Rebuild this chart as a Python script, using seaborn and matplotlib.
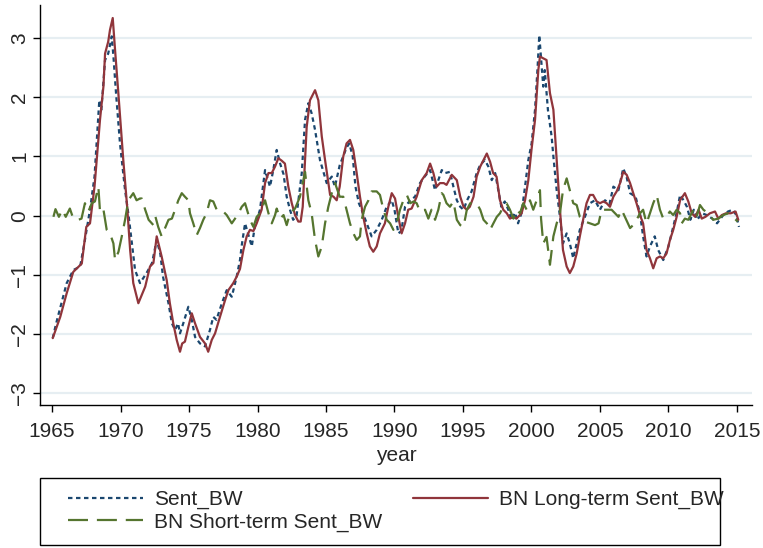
import matplotlib
matplotlib.use('Agg')
import matplotlib.pyplot as plt
import matplotlib.font_manager as fm
from matplotlib.patches import Rectangle
import pandas as pd
import seaborn as sns

# Sent_BW
sent_year = [1965.05, 1965.3, 1966.07, 1966.55, 1967.05, 1967.4, 1967.77, 1968.1, 1968.45, 1968.6,
             1968.87, 1969.1, 1969.36, 1969.5, 1969.67, 1969.96, 1970.33, 1970.6, 1971.06, 1971.42,
             1971.9, 1972.3, 1972.64, 1972.9, 1973.1, 1973.5, 1973.75, 1973.98, 1974.2, 1974.34,
             1974.58, 1974.95, 1975.2, 1975.44, 1975.8, 1976.17, 1976.53, 1976.77, 1977.0, 1977.4,
             1977.75, 1978.12, 1978.48, 1978.72, 1978.85, 1979.09, 1979.3, 1979.58, 1979.8, 1980.18,
             1980.55, 1980.91, 1981.15, 1981.4, 1981.65, 1981.9, 1982.13, 1982.37, 1982.6, 1982.85,
             1983.23, 1983.47, 1983.71, 1983.95, 1984.2, 1984.56, 1985.05, 1985.42, 1985.65, 1986.0,
             1986.5, 1986.7, 1986.95, 1987.15, 1987.4, 1987.6, 1987.97, 1988.33, 1988.7, 1989.07,
             1989.43, 1989.8, 1990.0, 1990.28, 1990.5, 1990.77, 1991.15, 1991.5, 1991.86, 1992.2,
             1992.6, 1992.96, 1993.2, 1993.45, 1993.7, 1994.05, 1994.3, 1994.55, 1994.8, 1995.04,
             1995.3, 1995.63, 1996.0, 1996.26, 1996.6, 1996.85, 1997.1, 1997.35, 1997.58, 1997.8,
             1998.05, 1998.31, 1998.55, 1998.8, 1999.02, 1999.28, 1999.53, 1999.77, 2000.01, 2000.26,
             2000.45, 2000.57, 2000.7, 2000.86, 2000.97, 2001.2, 2001.47, 2001.6, 2001.84, 2002.08,
             2002.3, 2002.57, 2002.8, 2003.05, 2003.3, 2003.53, 2003.9, 2004.27, 2004.64, 2005.0,
             2005.37, 2005.7, 2005.98, 2006.35, 2006.7, 2006.95, 2007.2, 2007.6, 2007.92, 2008.15,
             2008.4, 2008.65, 2009.0, 2009.25, 2009.62, 2010.0, 2010.35, 2010.6, 2010.85, 2011.1,
             2011.35, 2011.6, 2011.85, 2012.1, 2012.45, 2012.8, 2013.2, 2013.55, 2014.0, 2014.35,
             2014.7, 2014.95, 2015.15]
sent_val = [-2.07, -1.82, -1.14, -0.92, -0.86, -0.41, 0.10, 0.66, 1.95, 1.79,
            2.63, 2.74, 3.03, 2.63, 2.07, 1.22, 0.43, -0.02, -0.92, -1.14,
            -0.97, -0.80, -0.41, -0.64, -1.03, -1.48, -1.82, -1.93, -1.82, -1.99,
            -1.82, -1.54, -1.76, -2.05, -2.16, -2.21, -1.93, -1.71, -1.76, -1.48,
            -1.26, -1.37, -1.03, -0.75, -0.50, -0.13, -0.30, -0.52, -0.19, 0.10,
            0.77, 0.49, 0.77, 1.11, 0.88, 0.70, 0.32, 0.10, -0.07, 0.00,
            0.72, 1.62, 1.90, 1.73, 1.45, 0.94, 0.55, 0.66, 0.49, 0.85,
            1.15, 1.22, 1.00, 0.49, 0.21, 0.10, -0.13, -0.35, -0.24, -0.07,
            0.15, 0.26, 0.10, -0.30, -0.26, 0.15, 0.26, 0.32, 0.55, 0.66,
            0.77, 0.43, 0.60, 0.77, 0.72, 0.74, 0.49, 0.26, 0.15, 0.10,
            0.26, 0.41, 0.72, 0.86, 0.94, 0.83, 0.60, 0.72, 0.43, 0.15,
            0.24, 0.10, -0.07, 0.05, -0.13, 0.05, 0.49, 0.94, 1.22, 1.79,
            2.52, 3.05, 2.66, 2.18, 2.46, 1.79, 1.34, 1.00, 0.43, -0.02,
            -0.47, -0.30, -0.47, -0.72, -0.47, -0.24, -0.02, 0.21, 0.26, 0.10,
            0.26, 0.20, 0.49, 0.43, 0.80, 0.65, 0.38, 0.32, 0.04, -0.35,
            -0.69, -0.52, -0.35, -0.58, -0.75, -0.52, -0.19, 0.05, 0.35, 0.26,
            0.15, -0.07, 0.10, -0.07, 0.04, 0.01, -0.05, -0.13, 0.01, 0.07,
            0.10, 0.01, -0.19]

# BN Long-term Sent_BW
long_year = [1965.05, 1965.6, 1966.07, 1966.55, 1967.17, 1967.5, 1967.77, 1968.1, 1968.5, 1968.75,
             1968.87, 1969.1, 1969.23, 1969.43, 1969.6, 1969.84, 1970.2, 1970.5, 1970.7, 1970.93,
             1971.3, 1971.8, 1972.15, 1972.4, 1972.64, 1973.0, 1973.37, 1973.6, 1973.85, 1974.1,
             1974.34, 1974.5, 1974.7, 1974.95, 1975.2, 1975.44, 1975.8, 1976.17, 1976.4, 1976.66,
             1976.9, 1977.26, 1977.63, 1977.87, 1978.23, 1978.48, 1978.72, 1978.97, 1979.21, 1979.45,
             1979.7, 1979.94, 1980.3, 1980.55, 1980.8, 1981.04, 1981.28, 1981.52, 1981.76, 1982.0,
             1982.25, 1982.5, 1982.74, 1982.98, 1983.15, 1983.3, 1983.47, 1983.59, 1983.83, 1984.2,
             1984.44, 1984.69, 1984.93, 1985.3, 1985.55, 1985.78, 1986.0, 1986.26, 1986.5, 1986.75,
             1986.99, 1987.24, 1987.48, 1987.72, 1987.97, 1988.2, 1988.45, 1988.7, 1988.94, 1989.3,
             1989.55, 1989.8, 1990.04, 1990.28, 1990.52, 1990.77, 1991.0, 1991.25, 1991.62, 1991.99,
             1992.35, 1992.6, 1992.84, 1993.08, 1993.32, 1993.6, 1993.8, 1994.18, 1994.55, 1994.8,
             1995.04, 1995.28, 1995.5, 1995.77, 1996.0, 1996.26, 1996.5, 1996.74, 1996.98, 1997.2,
             1997.45, 1997.7, 1997.94, 1998.2, 1998.43, 1998.68, 1998.9, 1999.28, 1999.53, 1999.77,
             2000.0, 2000.26, 2000.5, 2000.62, 2000.85, 2001.1, 2001.35, 2001.6, 2001.84, 2002.08,
             2002.3, 2002.57, 2002.8, 2003.05, 2003.3, 2003.53, 2003.77, 2004.02, 2004.27, 2004.5,
             2004.76, 2005.0, 2005.25, 2005.49, 2005.73, 2005.98, 2006.22, 2006.47, 2006.7, 2006.95,
             2007.2, 2007.43, 2007.67, 2007.92, 2008.15, 2008.4, 2008.65, 2008.89, 2009.14, 2009.38,
             2009.62, 2009.86, 2010.11, 2010.35, 2010.6, 2010.85, 2011.2, 2011.45, 2011.7, 2011.95,
             2012.2, 2012.43, 2012.7, 2013.03, 2013.4, 2013.64, 2013.9, 2014.2, 2014.55, 2014.9,
             2015.1]
long_val = [-2.07, -1.71, -1.31, -0.95, -0.81, -0.19, -0.13, 0.49, 1.62, 2.18,
            2.74, 2.94, 3.14, 3.34, 2.80, 2.07, 0.94, 0.10, -0.58, -1.14,
            -1.48, -1.20, -0.86, -0.80, -0.35, -0.69, -1.09, -1.48, -1.82, -2.10,
            -2.30, -2.16, -2.13, -1.88, -1.65, -1.82, -2.05, -2.16, -2.30, -2.10,
            -1.99, -1.71, -1.43, -1.26, -1.14, -1.03, -0.90, -0.58, -0.35, -0.24,
            -0.26, -0.13, 0.10, 0.55, 0.72, 0.72, 0.83, 0.97, 0.93, 0.88,
            0.49, 0.21, 0.01, -0.10, -0.10, 0.15, 0.94, 1.50, 1.95, 2.12,
            1.95, 1.34, 0.94, 0.35, 0.32, 0.26, 0.49, 1.00, 1.22, 1.28,
            1.11, 0.72, 0.32, -0.02, -0.30, -0.52, -0.61, -0.52, -0.30, -0.13,
            0.15, 0.38, 0.29, -0.02, -0.30, -0.13, 0.10, 0.12, 0.32, 0.60,
            0.72, 0.88, 0.72, 0.49, 0.55, 0.55, 0.52, 0.69, 0.60, 0.32,
            0.15, 0.10, 0.15, 0.32, 0.66, 0.83, 0.94, 1.05, 0.91, 0.72,
            0.66, 0.26, 0.10, 0.04, -0.05, -0.02, -0.05, 0.04, 0.26, 0.60,
            1.11, 1.62, 2.46, 2.69, 2.66, 2.63, 2.07, 1.79, 0.94, 0.10,
            -0.58, -0.86, -0.97, -0.86, -0.64, -0.35, -0.07, 0.21, 0.35, 0.35,
            0.24, 0.21, 0.24, 0.21, 0.15, 0.32, 0.41, 0.55, 0.74, 0.69,
            0.55, 0.38, 0.21, 0.01, -0.13, -0.58, -0.72, -0.89, -0.72, -0.69,
            -0.72, -0.64, -0.41, -0.24, -0.02, 0.26, 0.38, 0.24, 0.04, -0.02,
            0.10, -0.05, -0.02, 0.04, 0.07, -0.05, 0.01, 0.04, 0.04, 0.07,
            -0.07]

# BN Short-term Sent_BW
short_year = [1965.1, 1965.25, 1965.5, 1965.75, 1966.0, 1966.3, 1966.55, 1966.92, 1967.15, 1967.4,
              1967.65, 1967.9, 1968.13, 1968.38, 1968.5, 1968.74, 1968.99, 1969.23, 1969.48, 1969.6,
              1969.85, 1970.09, 1970.33, 1970.57, 1970.93, 1971.17, 1971.42, 1971.55, 1971.8, 1972.05,
              1972.4, 1972.55, 1972.75, 1973.0, 1973.25, 1973.5, 1973.75, 1973.98, 1974.22, 1974.47,
              1974.7, 1974.95, 1975.07, 1975.31, 1975.56, 1975.8, 1976.04, 1976.28, 1976.53, 1976.77,
              1977.02, 1977.26, 1977.5, 1977.75, 1978.12, 1978.36, 1978.61, 1978.85, 1979.09, 1979.45,
              1979.7, 1979.94, 1980.18, 1980.55, 1980.8, 1981.04, 1981.28, 1981.4, 1981.65, 1981.9,
              1982.13, 1982.37, 1982.74, 1983.1, 1983.35, 1983.47, 1983.71, 1983.95, 1984.2, 1984.44,
              1984.69, 1984.93, 1985.17, 1985.42, 1985.66, 1986.0, 1986.26, 1986.5, 1986.75, 1987.0,
              1987.24, 1987.48, 1987.6, 1987.85, 1988.1, 1988.33, 1988.7, 1988.94, 1989.19, 1989.43,
              1989.68, 1989.92, 1990.16, 1990.4, 1990.65, 1990.9, 1991.15, 1991.4, 1991.62, 1991.86,
              1992.23, 1992.47, 1992.7, 1992.96, 1993.2, 1993.45, 1993.57, 1993.8, 1994.05, 1994.3,
              1994.55, 1994.8, 1995.04, 1995.28, 1995.53, 1995.77, 1996.0, 1996.26, 1996.5, 1996.74,
              1996.98, 1997.22, 1997.47, 1997.7, 1997.94, 1998.18, 1998.43, 1998.68, 1998.92, 1999.16,
              1999.4, 1999.65, 1999.89, 2000.13, 2000.38, 2000.62, 2000.7, 2000.86, 2001.1, 2001.35,
              2001.6, 2001.84, 2002.08, 2002.3, 2002.57, 2002.8, 2003.05, 2003.3, 2003.53, 2003.9,
              2004.27, 2004.64, 2004.9, 2005.12, 2005.49, 2005.85, 2006.1, 2006.35, 2006.58, 2006.82,
              2007.2, 2007.55, 2007.92, 2008.15, 2008.4, 2008.65, 2008.89, 2009.14, 2009.38, 2009.62,
              2009.86, 2010.1, 2010.35, 2010.6, 2010.85, 2010.97, 2011.2, 2011.45, 2011.82, 2012.06,
              2012.3, 2012.55, 2012.9, 2013.27, 2013.64, 2014.0, 2014.37, 2014.7, 2015.05]
short_val = [-0.02, 0.11, -0.02, 0.10, -0.02, 0.12, -0.05, -0.07, -0.05, 0.21,
             0.07, 0.21, 0.24, 0.49, 0.07, 0.12, -0.24, -0.30, -0.47, -0.75,
             -0.61, -0.35, -0.07, 0.26, 0.38, 0.26, 0.29, 0.29, 0.10, -0.07,
             -0.16, -0.02, -0.19, -0.35, -0.21, -0.07, -0.05, 0.10, 0.26, 0.38,
             0.32, 0.26, 0.04, -0.13, -0.33, -0.21, -0.07, 0.04, 0.26, 0.24,
             0.10, 0.10, 0.07, 0.01, -0.13, -0.05, 0.04, 0.15, 0.21, -0.07,
             -0.19, -0.02, 0.04, 0.26, 0.04, -0.13, 0.01, 0.12, -0.05, 0.01,
             -0.16, 0.04, 0.12, 0.32, 0.60, 0.74, 0.26, 0.04, -0.41, -0.69,
             -0.52, -0.13, 0.15, 0.38, 0.55, 0.32, 0.32, 0.10, -0.13, -0.30,
             -0.41, -0.35, -0.07, 0.15, 0.26, 0.41, 0.41, 0.35, 0.10, -0.07,
             -0.13, -0.24, -0.13, 0.10, 0.26, 0.35, 0.21, 0.24, 0.21, 0.07,
             0.10, -0.05, 0.10, -0.07, 0.10, 0.38, 0.35, 0.21, 0.15, 0.24,
             -0.07, -0.16, -0.19, 0.10, 0.21, 0.21, 0.21, 0.10, -0.07, -0.13,
             -0.24, -0.13, -0.02, 0.04, 0.15, 0.21, 0.10, -0.05, 0.10, 0.04,
             0.21, 0.10, 0.26, 0.10, 0.26, 0.43, -0.05, -0.47, -0.36, -0.83,
             -0.35, -0.13, 0.04, 0.43, 0.63, 0.43, 0.21, 0.18, -0.02, -0.10,
             -0.13, -0.16, -0.13, 0.10, 0.10, 0.10, 0.04, -0.02, 0.10, -0.02,
             -0.21, -0.13, 0.04, 0.10, -0.13, 0.04, 0.21, 0.35, 0.10, -0.05,
             -0.02, 0.07, 0.01, 0.10, 0.04, -0.13, -0.05, -0.07, 0.10, -0.02,
             0.18, 0.10, 0.04, -0.07, -0.05, 0.01, 0.04, -0.02, -0.10]

navy = '#1a476f'
maroon = '#90353b'
green = '#55752f'

sns.set_style('white')
names = {f.name for f in fm.fontManager.ttflist}
if 'Liberation Sans Narrow' in names:
    plt.rcParams['font.family'] = ['Liberation Sans Narrow', 'DejaVu Sans']
    fs = 18
else:
    plt.rcParams['font.family'] = ['Liberation Sans', 'DejaVu Sans']
    fs = 15

W, H = 763, 548
fig = plt.figure(figsize=(W / 100, H / 100), dpi=100)
ax = fig.add_axes([40 / W, 1 - 405 / H, 712 / W, 400 / H])

sent = pd.DataFrame({'year': sent_year, 'value': sent_val})
lt = pd.DataFrame({'year': long_year, 'value': long_val})
st = pd.DataFrame({'year': short_year, 'value': short_val})

sns.lineplot(data=sent, x='year', y='value', ax=ax, color=navy, linewidth=1.6,
             linestyle=(0, (2, 1.6)), label='Sent_BW')
sns.lineplot(data=lt, x='year', y='value', ax=ax, color=maroon, linewidth=1.6,
             label='BN Long-term Sent_BW')
sns.lineplot(data=st, x='year', y='value', ax=ax, color=green, linewidth=1.6,
             linestyle=(0, (9, 4)), label='BN Short-term Sent_BW')

ax.set_xlim(1964.12, 2016.1)
ax.set_ylim(-3.2, 3.56)
ax.set_xticks(range(1965, 2016, 5))
ax.set_yticks(range(-3, 4))
ax.grid(axis='y', color='#e6eef2', linewidth=1.6)
ax.set_axisbelow(True)
for s in ['top', 'right']:
    ax.spines[s].set_visible(False)
for s in ['left', 'bottom']:
    ax.spines[s].set_color('black')
    ax.spines[s].set_linewidth(1.0)
ax.tick_params(axis='both', direction='out', length=5, width=1.0, color='black',
               labelsize=fs, left=True, bottom=True)
ax.tick_params(axis='x', pad=7)
ax.tick_params(axis='y', pad=3)
for lab in ax.get_yticklabels():
    lab.set_rotation(90)
    lab.set_va('center')
ax.set_xlabel('year', fontsize=fs, labelpad=4)
ax.set_ylabel('')

handles, labels = ax.get_legend_handles_labels()
ax.get_legend().remove()

# legend frame, then the two legend columns placed inside it
fig.patches.append(Rectangle((40 / W, 1 - 545 / H), 680 / W, 67 / H, transform=fig.transFigure,
                             facecolor='white', edgecolor='black', linewidth=1.0))
common = dict(loc='upper left', fontsize=fs, frameon=False, handlelength=3.6,
              handletextpad=0.55, labelspacing=0.15, borderpad=0, borderaxespad=0)
leg1 = fig.legend([handles[0], handles[2]], [labels[0], labels[2]],
                  bbox_to_anchor=(68 / W, 1 - 490 / H), **common)
leg2 = fig.legend([handles[1]], [labels[1]],
                  bbox_to_anchor=(413 / W, 1 - 490 / H), **common)

fig.savefig('out.png', dpi=100, facecolor='white')
